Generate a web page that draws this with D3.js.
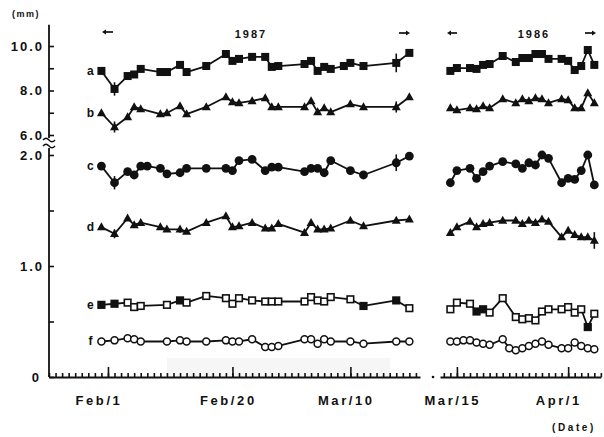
<!DOCTYPE html>
<html>
<head>
<meta charset="utf-8">
<script src="https://cdn.jsdelivr.net/npm/d3@7"></script>
<style>
  html, body { margin: 0; padding: 0; background: #fff; }
  svg { display: block; }
  text { font-family: "Liberation Sans", Arial, sans-serif; font-weight: bold; fill: #111; }
</style>
</head>
<body>
<svg id="chart" width="604" height="437"></svg>
<script>
// ---- Sampling dates (1987 season on the left, 1986 season on the right) ----
const dates1987 = ["1987-01-31","1987-02-02","1987-02-04","1987-02-05","1987-02-06","1987-02-07",
  "1987-02-09","1987-02-10","1987-02-12","1987-02-13","1987-02-16","1987-02-19","1987-02-20",
  "1987-02-21","1987-02-23","1987-02-25","1987-02-26","1987-02-27","1987-03-03","1987-03-04",
  "1987-03-05","1987-03-06","1987-03-07","1987-03-09","1987-03-10","1987-03-12","1987-03-17","1987-03-19"];
const dates1986 = ["1986-03-14","1986-03-15","1986-03-16","1986-03-17","1986-03-18","1986-03-19",
  "1986-03-20","1986-03-22","1986-03-23","1986-03-24","1986-03-25","1986-03-26","1986-03-27",
  "1986-03-28","1986-03-29","1986-03-31","1986-04-01","1986-04-02","1986-04-03","1986-04-04","1986-04-05"];

// ---- Measurements (mm); null = not measured that day ----
const a1987 = [8.88,8.07,8.65,8.72,8.97,null,8.83,8.83,9.15,8.83,9.10,9.64,9.33,9.42,9.51,9.51,9.06,9.10,9.19,9.33,8.88,9.06,8.97,9.10,9.24,9.10,9.24,9.69];
const b1987 = [6.99,6.36,6.81,7.26,7.17,null,6.94,6.99,7.30,6.94,7.26,7.71,7.48,7.44,7.53,7.66,7.26,7.26,7.26,7.53,7.03,7.21,7.03,null,7.39,7.26,7.26,7.71];
const c1987 = [1.90,1.75,1.85,1.82,1.90,1.90,1.88,1.83,1.84,1.88,1.88,1.88,1.86,1.95,1.96,1.86,1.89,1.89,1.85,1.88,1.88,1.84,1.95,null,1.86,1.82,1.93,1.99];
const d1987 = [1.35,1.29,1.43,1.37,1.39,null,1.35,1.33,1.33,1.31,1.39,1.45,1.35,1.36,1.39,1.34,1.34,1.38,1.30,1.39,1.33,1.33,1.34,null,1.41,1.36,1.41,1.42];
const e1987 = [0.65,0.66,0.67,0.63,0.64,null,null,0.65,0.69,0.67,0.73,0.71,0.66,0.71,0.69,0.68,0.68,0.68,0.68,0.72,0.69,0.68,0.72,null,0.70,0.64,0.69,0.62];
const f1987 = [0.32,0.33,0.35,0.34,0.32,null,null,0.32,0.33,0.32,0.32,0.33,0.32,0.32,0.34,0.27,0.27,0.28,0.34,0.34,0.30,0.34,0.32,null,0.32,0.30,0.32,0.32];

const a1986 = [8.88,9.01,null,9.01,8.97,9.15,9.19,9.55,null,9.28,9.46,9.46,9.64,9.64,9.42,9.42,9.33,8.92,9.10,9.82,9.15];
const b1986 = [7.21,7.12,null,7.21,7.17,7.30,7.21,7.62,null,7.44,7.62,7.53,7.66,7.62,7.44,7.62,7.57,7.21,7.21,7.89,7.44];
const c1986 = [1.75,1.86,null,1.88,1.79,1.85,1.90,1.94,null,1.92,1.88,1.93,1.91,2.00,1.97,1.75,1.79,1.78,1.86,2.00,1.73];
const d1986 = [1.30,1.35,null,1.40,1.35,1.38,1.39,1.41,null,1.41,1.38,1.41,1.39,1.42,1.40,1.26,1.32,1.28,1.26,1.26,1.23];
const e1986 = [0.61,0.67,null,0.66,0.59,0.61,0.58,0.71,null,0.54,0.52,0.53,0.51,0.59,0.61,0.61,0.63,0.58,0.61,0.45,0.57];
const f1986 = [0.32,0.32,0.33,0.33,0.31,0.30,0.29,0.34,0.26,0.24,0.26,0.28,0.30,0.32,0.29,0.26,0.26,0.31,0.28,0.26,0.25];

// days on which series e was drawn with a solid square
const eSolidDays = ["1987-01-31","1987-02-02","1987-02-12","1987-03-12","1987-03-17","1986-03-18","1986-03-19","1986-04-04"];

// vertical error bars (half-length in mm)
const errSeries = ["a","a","b","b","c","c","d","d","d"];
const errDays   = ["1987-02-02","1987-03-17","1987-02-02","1987-03-17","1987-02-02","1987-03-17","1987-02-02","1987-02-12","1986-04-05"];
const errSize   = [0.30,0.42,0.25,0.25,0.06,0.075,0.04,0.03,0.075];

// ---- Axis ticks and labels ----
const upperTicks = [6, 7, 8, 9, 10];
const upperLabelled = [6, 8, 10];
const lowerTicks = [0, 0.5, 1, 1.5, 2];
const lowerLabels = ["0", "", "1.0", "", "2.0"];
const majorDays1987 = ["1987-02-01", "1987-02-20", "1987-03-10"];
const majorDays1986 = ["1986-03-15", "1986-04-01"];
const yearLabels = ["1987", "1986"];

// ---- Drawing ----
const parse = d3.timeParse("%Y-%m-%d");
const svg = d3.select("#chart");
const ink = "#111";

const x87 = d3.scaleTime().domain([new Date(1987, 0, 23), new Date(1987, 2, 20, 15)]).range([49, 420]);
const x86 = d3.scaleTime().domain([new Date(1986, 2, 12, 10), new Date(1986, 3, 6, 0, 30)]).range([440, 601]);
const yUp = d3.scaleLinear().domain([6, 10]).range([135, 46]);
const yLow = d3.scaleLinear().domain([0, 2]).range([377, 155]);
const baseY = yLow(0);

// faint shading along the time axis
svg.append("rect").attr("x", 167).attr("y", 358).attr("width", 223).attr("height", 19).attr("fill", "#f6f6f6");

function styleAxis(g, size, spacing) {
  g.attr("font-family", null).attr("font-size", null);
  g.selectAll("line").attr("stroke", ink).attr("stroke-width", 1.6);
  g.selectAll("path.domain").attr("stroke", ink).attr("stroke-width", 1.8);
  g.selectAll("text").attr("fill", ink).style("font-size", size + "px").style("letter-spacing", spacing + "px");
}

// y axes (upper panel 6-10 mm, lower panel 0-2 mm), ticks pointing inward
const axUp = d3.axisLeft(yUp).tickValues(upperTicks).tickSizeInner(-5).tickSizeOuter(0).tickPadding(5)
  .tickFormat(v => upperLabelled.includes(v) ? d3.format(".1f")(v) : "");
svg.append("g").attr("transform", "translate(49,0)").call(axUp)
  .call(g => g.select(".domain").remove()).call(g => styleAxis(g, 13, 2));

const axLow = d3.axisLeft(yLow).tickValues(lowerTicks).tickSizeInner(-5).tickSizeOuter(0).tickPadding(5)
  .tickFormat((v, i) => lowerLabels[i]);
svg.append("g").attr("transform", "translate(49,0)").call(axLow)
  .call(g => g.select(".domain").remove()).call(g => styleAxis(g, 13, 2));
svg.selectAll("g.tick text").filter(function () { return this.textContent === "0"; }).attr("dx", -3);

// y axis spine with a break between the two scales
svg.append("line").attr("x1", 49).attr("x2", 49).attr("y1", yUp(10.95)).attr("y2", 138)
  .attr("stroke", ink).attr("stroke-width", 1.8);
svg.append("line").attr("x1", 49).attr("x2", 49).attr("y1", 148).attr("y2", baseY)
  .attr("stroke", ink).attr("stroke-width", 1.8);
[140, 146].forEach(yy => {
  svg.append("path").attr("d", `M43,${yy} q3,-3.5 6,0 t6,0`)
    .attr("fill", "none").attr("stroke", ink).attr("stroke-width", 1.4);
});

// time axes: daily minor ticks, taller ticks at labelled dates
function timeAxis(x, majorStrings) {
  const [d0, d1] = x.domain();
  const days = d3.timeDay.range(d3.timeDay.ceil(d0), d1);
  svg.append("g").attr("transform", `translate(0,${baseY})`)
    .call(d3.axisBottom(x).tickValues(days).tickSizeInner(-4).tickSizeOuter(0).tickFormat(""))
    .call(g => styleAxis(g, 13, 2));
  const majors = majorStrings.map(parse);
  svg.append("g").attr("transform", `translate(0,${baseY})`)
    .call(d3.axisBottom(x).tickValues(majors).tickSizeInner(-10).tickSizeOuter(0).tickPadding(19)
      .tickFormat(d3.timeFormat("%b/%-d")))
    .call(g => g.select(".domain").remove())
    .call(g => styleAxis(g, 13, 2.6))
    .call(g => g.selectAll("text").attr("text-anchor", "start").attr("dx", -33));
}
timeAxis(x87, majorDays1987);
timeAxis(x86, majorDays1986);
svg.append("circle").attr("cx", 433).attr("cy", baseY).attr("r", 1.3).attr("fill", ink);

// series definitions built from the arrays above
const seriesDefs = [
  { name: "a", v87: a1987, v86: a1986, y: yUp,  mark: "square" },
  { name: "b", v87: b1987, v86: b1986, y: yUp,  mark: "triangle" },
  { name: "c", v87: c1987, v86: c1986, y: yLow, mark: "circle" },
  { name: "d", v87: d1987, v86: d1986, y: yLow, mark: "triangle" },
  { name: "e", v87: e1987, v86: e1986, y: yLow, mark: "squareOpen" },
  { name: "f", v87: f1987, v86: f1986, y: yLow, mark: "circleOpen" }
];

function drawMarker(g, kind, cx, cy, day) {
  if (kind === "square") {
    g.append("rect").attr("x", cx - 4).attr("y", cy - 4).attr("width", 8).attr("height", 8).attr("fill", ink);
  } else if (kind === "triangle") {
    g.append("path").attr("d", `M${cx},${cy - 4.8} L${cx + 4.5},${cy + 3.2} L${cx - 4.5},${cy + 3.2} Z`).attr("fill", ink);
  } else if (kind === "circle") {
    g.append("circle").attr("cx", cx).attr("cy", cy).attr("r", 4.4).attr("fill", ink);
  } else if (kind === "squareOpen") {
    const solid = eSolidDays.includes(day);
    g.append("rect").attr("x", cx - 3.3).attr("y", cy - 3.3).attr("width", 6.6).attr("height", 6.6)
      .attr("fill", solid ? ink : "#fff").attr("stroke", ink).attr("stroke-width", 1.6);
  } else if (kind === "circleOpen") {
    g.append("circle").attr("cx", cx).attr("cy", cy).attr("r", 3.5)
      .attr("fill", "#fff").attr("stroke", ink).attr("stroke-width", 1.5);
  }
}

function drawPanel(def, dates, values, x) {
  const pts = dates.map((d, i) => ({ day: d, date: parse(d), v: values[i] })).filter(p => p.v !== null);
  const g = svg.append("g");
  g.append("path").datum(pts)
    .attr("d", d3.line().x(p => x(p.date)).y(p => def.y(p.v)))
    .attr("fill", "none").attr("stroke", ink).attr("stroke-width", 1.8).attr("stroke-linejoin", "round");
  // error bars
  errSeries.forEach((s, i) => {
    if (s !== def.name) return;
    const p = pts.find(q => q.day === errDays[i]);
    if (!p) return;
    g.append("line").attr("x1", x(p.date)).attr("x2", x(p.date))
      .attr("y1", def.y(p.v - errSize[i])).attr("y2", def.y(p.v + errSize[i]))
      .attr("stroke", ink).attr("stroke-width", 1.6);
  });
  pts.forEach(p => drawMarker(g, def.mark, x(p.date), def.y(p.v), p.day));
  return pts;
}

seriesDefs.forEach(def => {
  const pts = drawPanel(def, dates1987, def.v87, x87);
  drawPanel(def, dates1986, def.v86, x86);
  const first = pts[0];
  svg.append("text").attr("x", x87(first.date) - 11).attr("y", def.y(first.v) + 4)
    .attr("text-anchor", "middle").style("font-size", "12px").text(def.name);
});

// period arrows and year labels
function arrow(xFrom, xTo, y) {
  const dir = Math.sign(xTo - xFrom);
  svg.append("line").attr("x1", xFrom).attr("x2", xTo - dir * 3).attr("y1", y).attr("y2", y)
    .attr("stroke", ink).attr("stroke-width", 1.7);
  svg.append("path").attr("d", `M${xTo},${y} L${xTo - dir * 4},${y - 2.5} L${xTo - dir * 4},${y + 2.5} Z`).attr("fill", ink);
}
arrow(113, 102, 32);
arrow(399, 410, 33);
arrow(457, 447, 33);
arrow(585, 596, 33);

svg.append("text").attr("x", 251).attr("y", 38).attr("text-anchor", "middle")
  .style("font-size", "11px").style("letter-spacing", "2px").text(yearLabels[0]);
svg.append("text").attr("x", 534).attr("y", 38).attr("text-anchor", "middle")
  .style("font-size", "11px").style("letter-spacing", "2px").text(yearLabels[1]);

// unit labels
svg.append("text").attr("x", 12).attr("y", 17).style("font-size", "9px").style("letter-spacing", "1.5px").text("(mm)");
svg.append("text").attr("x", 552).attr("y", 431).style("font-size", "10px").style("letter-spacing", "2.6px").text("(Date)");
</script>
</body>
</html>
